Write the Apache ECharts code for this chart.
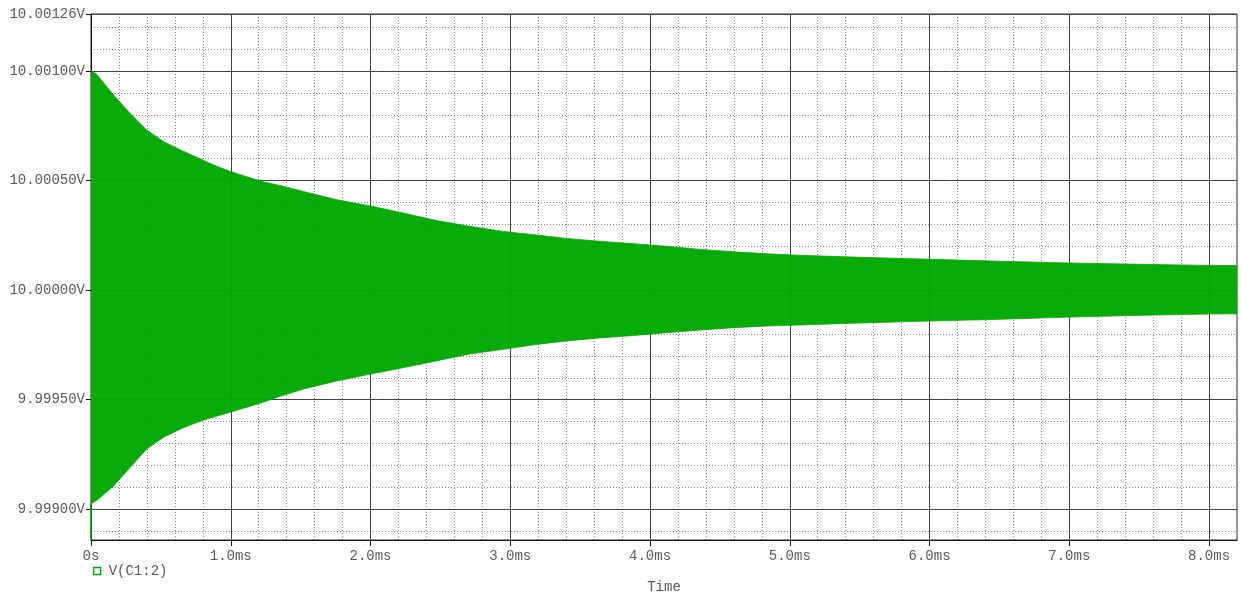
<!DOCTYPE html>
<html>
<head>
<meta charset="utf-8">
<script src="https://cdn.jsdelivr.net/npm/echarts@6/dist/echarts.min.js"></script>
<style>
html,body{margin:0;padding:0;background:#fff;}
#chart{width:1242px;height:595px;}
</style>
</head>
<body>
<div id="chart"></div>
<script>
// Time points (ms) where the envelope of the oscillating trace was read
const timeMs = [0, 0.04, 0.16, 0.28, 0.40, 0.52, 0.64, 0.76, 0.87, 0.99, 1.11, 1.23, 1.35, 1.52, 1.76, 2.00, 2.24, 2.47, 2.71, 2.95, 3.17, 3.40, 3.64, 3.88, 4.12, 4.36, 4.60, 4.83, 5.07, 5.50, 6.00, 6.50, 7.00, 7.50, 8.00, 8.20];
// Upper envelope of V(C1:2) (V)
const upperV = [10.001000, 10.000985, 10.000891, 10.000806, 10.000730, 10.000677, 10.000640, 10.000605, 10.000573, 10.000543, 10.000518, 10.000495, 10.000478, 10.000450, 10.000412, 10.000384, 10.000351, 10.000318, 10.000291, 10.000268, 10.000253, 10.000236, 10.000223, 10.000212, 10.000200, 10.000186, 10.000175, 10.000166, 10.000159, 10.000150, 10.000141, 10.000132, 10.000124, 10.000118, 10.000113, 10.000112];
// Lower envelope of V(C1:2) (V)
const lowerV = [9.999026, 9.999040, 9.999105, 9.999192, 9.999276, 9.999329, 9.999367, 9.999397, 9.999420, 9.999442, 9.999465, 9.999488, 9.999515, 9.999549, 9.999586, 9.999617, 9.999647, 9.999677, 9.999709, 9.999730, 9.999751, 9.999768, 9.999782, 9.999793, 9.999806, 9.999818, 9.999829, 9.999836, 9.999841, 9.999850, 9.999859, 9.999867, 9.999877, 9.999885, 9.999891, 9.999892];
// Initial rise of the trace at t = 0
const startTimeMs = [0, 0];
const startV = [9.99886, 9.99903];

const seriesName = 'V(C1:2)';
const xAxisName = 'Time';
const yLabelValues = [9.99900, 9.99950, 10.00000, 10.00050, 10.00100, 10.00126];
const xLabelValues = [0, 1, 2, 3, 4, 5, 6, 7, 8];
const yMin = 9.99886, yMax = 10.00126;
const xMin = 0, xMax = 8.2;

const FONT = "'Liberation Mono', 'DejaVu Sans Mono', monospace";
const TEXT = '#5a5a5a';
const GREEN = '#00a800';

const bandData = timeMs.map((t, i) => [t, upperV[i], lowerV[i]]);
const startData = startTimeMs.map((t, i) => [t, startV[i]]);

function renderBand(params, api) {
  if (params.dataIndex !== 0) return;
  const pts = [];
  for (let i = 0; i < bandData.length; i++) pts.push(api.coord([bandData[i][0], bandData[i][1]]));
  for (let i = bandData.length - 1; i >= 0; i--) pts.push(api.coord([bandData[i][0], bandData[i][2]]));
  return {
    type: 'polygon',
    shape: {points: pts},
    style: {fill: GREEN, opacity: 0.97, stroke: GREEN, lineWidth: 0.8}
  };
}

const chart = echarts.init(document.getElementById('chart'), null, {renderer: 'canvas'});
chart.setOption({
  animation: false,
  backgroundColor: '#fff',
  grid: {left: 91, right: 5, top: 14, bottom: 55, show: true, borderColor: '#333', borderWidth: 1,
    containLabel: false, outerBoundsMode: 'none'},
  legend: {
    left: 93, top: 564, padding: 0,
    itemWidth: 7, itemHeight: 7,
    data: [{name: seriesName, icon: 'rect', itemStyle: {color: 'rgba(0,0,0,0)', borderColor: GREEN, borderWidth: 1.3}}],
    textStyle: {fontFamily: FONT, fontSize: 14, color: TEXT, padding: [0, 0, 0, 3]}
  },
  xAxis: [
    {
      type: 'value', min: xMin, max: xMax, interval: 1, z: 1,
      name: xAxisName, nameLocation: 'middle', nameGap: 40,
      nameTextStyle: {fontFamily: FONT, fontSize: 14, color: TEXT},
      axisLine: {lineStyle: {color: '#111', width: 1}},
      axisTick: {show: true, inside: false, length: 6, customValues: xLabelValues, lineStyle: {color: '#111'}},
      axisLabel: {customValues: xLabelValues, margin: 9, fontFamily: FONT, fontSize: 14, color: TEXT,
        formatter: v => v === 0 ? '0s' : v.toFixed(1) + 'ms'},
      splitLine: {show: true, lineStyle: {color: '#444', width: 1}}
    },
    {
      type: 'value', min: xMin, max: xMax, interval: 0.2, z: 0,
      axisLine: {show: false}, axisTick: {show: false}, axisLabel: {show: false},
      splitLine: {show: true, lineStyle: {color: '#8a8a8a', width: 1, type: [1, 2]}}
    }
  ],
  yAxis: [
    {
      type: 'value', min: yMin, max: yMax, splitNumber: 5, z: 1, scale: true,
      axisLine: {show: true, lineStyle: {color: '#111', width: 1}},
      axisTick: {show: true, inside: false, length: 5, customValues: yLabelValues, lineStyle: {color: '#111'}},
      axisLabel: {customValues: yLabelValues, margin: 6, fontFamily: FONT, fontSize: 14, color: TEXT,
        formatter: v => v.toFixed(5) + 'V'},
      splitLine: {show: true, lineStyle: {color: '#444', width: 1}}
    },
    {
      type: 'value', min: yMin, max: yMax, splitNumber: 24, z: 0, scale: true,
      axisLine: {show: false}, axisTick: {show: false}, axisLabel: {show: false},
      splitLine: {show: true, lineStyle: {color: '#8a8a8a', width: 1, type: [1, 2]}}
    }
  ],
  series: [
    {
      name: seriesName, type: 'custom', xAxisIndex: 0, yAxisIndex: 0,
      data: bandData, encode: {x: 0, y: [1, 2]}, renderItem: renderBand,
      clip: true, silent: true, color: GREEN,
      itemStyle: {color: GREEN}
    },
    {
      name: 'start', type: 'line', xAxisIndex: 0, yAxisIndex: 0,
      data: startData, symbol: 'none', silent: true,
      lineStyle: {width: 1.5, color: GREEN}
    }
  ]
});
</script>
</body>
</html>
